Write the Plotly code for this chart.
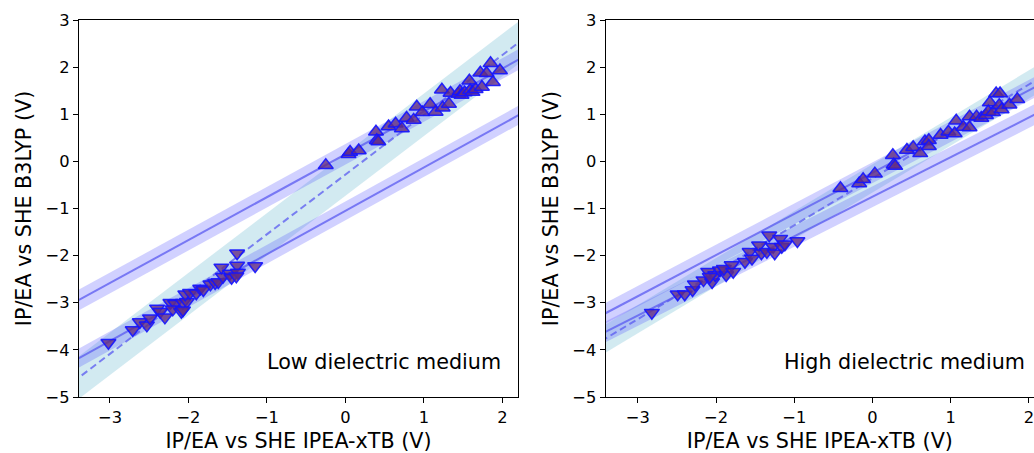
import numpy as np
import plotly.graph_objects as go

# ---------------- data ----------------
# Low dielectric medium (left panel)
low_ip_x = [-0.25, 0.04, 0.06, 0.17, 0.39, 0.40, 0.42, 0.55, 0.64, 0.72, 0.78, 0.87, 0.91, 0.98,
            1.08, 1.15, 1.23, 1.24, 1.32, 1.34, 1.44, 1.46, 1.48, 1.52, 1.58, 1.59, 1.62, 1.66,
            1.72, 1.74, 1.80, 1.85, 1.88, 1.97]
low_ip_y = [-0.08, 0.15, 0.20, 0.23, 0.63, 0.45, 0.42, 0.74, 0.80, 0.70, 0.92, 0.88, 1.16, 1.04,
            1.21, 1.05, 1.52, 1.14, 1.22, 1.45, 1.43, 1.49, 1.41, 1.46, 1.71, 1.51, 1.47, 1.53,
            1.88, 1.58, 1.87, 2.08, 1.68, 1.93]
low_ea_x = [-3.02, -2.71, -2.62, -2.53, -2.49, -2.40, -2.36, -2.30, -2.23, -2.17, -2.20, -2.09,
            -2.07, -2.02, -2.04, -1.98, -1.90, -1.85, -1.81, -1.72, -1.66, -1.62, -1.58, -1.56,
            -1.47, -1.45, -1.38, -1.38, -1.37, -1.39, -1.15, -2.07]
low_ea_y = [-3.85, -3.58, -3.41, -3.48, -3.33, -3.12, -3.19, -3.31, -3.00, -3.02, -3.14, -3.19,
            -3.00, -2.98, -2.82, -2.79, -2.80, -2.70, -2.73, -2.61, -2.58, -2.56, -2.25, -2.45,
            -2.38, -2.47, -1.95, -2.21, -2.36, -2.44, -2.22, -3.16]

# High dielectric medium (right panel)
high_ip_x = [-0.41, -0.17, -0.12, 0.03, 0.26, 0.27, 0.29, 0.44, 0.52, 0.61, 0.67, 0.72, 0.72,
             0.87, 0.97, 1.05, 1.07, 1.16, 1.24, 1.24, 1.33, 1.39, 1.45, 1.50, 1.48, 1.54,
             1.58, 1.63, 1.62, 1.65, 1.75, 1.85]
high_ip_y = [-0.57, -0.47, -0.38, -0.26, 0.13, -0.07, -0.10, 0.24, 0.30, 0.17, 0.42, 0.45, 0.32,
             0.56, 0.63, 0.59, 0.86, 0.73, 0.95, 0.72, 0.95, 0.92, 0.98, 1.25, 1.06, 1.04,
             1.44, 1.44, 1.19, 1.10, 1.20, 1.32]
high_ea_x = [-2.82, -2.49, -2.40, -2.30, -2.27, -2.16, -2.10, -2.05, -2.01, -2.08, -1.95, -1.87,
             -1.90, -1.80, -1.78, -1.63, -1.57, -1.54, -1.45, -1.42, -1.35, -1.32, -1.27, -1.25,
             -1.18, -1.16, -1.12, -0.96]
high_ea_y = [-3.21, -2.82, -2.82, -2.73, -2.61, -2.52, -2.34, -2.56, -2.41, -2.45, -2.31, -2.41,
             -2.28, -2.20, -2.34, -2.13, -1.92, -2.06, -1.78, -1.95, -1.92, -1.57, -1.81, -1.95,
             -1.64, -1.81, -1.76, -1.69]

# fitted lines: [slope, intercept, band half-width]
low_ip_fit = [0.91, 0.15, 0.22]
low_ea_fit = [0.92, -1.05, 0.20]
low_all_fit = [1.268, -0.28, 0.45]
high_ip_fit = [0.874, -0.24, 0.22]
high_ea_fit = [0.841, -0.75, 0.22]
high_all_fit = [0.996, -0.36, 0.30]

panel_text = ["Low dielectric medium", "High dielectric medium"]
x_ticks = [-3, -2, -1, 0, 1, 2]
y_ticks = [-5, -4, -3, -2, -1, 0, 1, 2, 3]

# ---------------- styling ----------------
W, H = 1034, 453
FONT = "DejaVu Sans"
band_col = "rgba(70,70,255,0.25)"
line_col = "rgba(90,90,240,0.75)"
light_col = "rgba(173,216,230,0.55)"
mk_fill = "rgba(100,45,130,0.8)"
mk_edge = "rgba(20,20,255,0.9)"
TFS = 20.7

fig = go.Figure()

panels = [
    dict(xa="x", ya="y", xr=[-3.395, 2.2], ip=(low_ip_x, low_ip_y), ea=(low_ea_x, low_ea_y),
         fits=(low_ip_fit, low_ea_fit, low_all_fit)),
    dict(xa="x2", ya="y2", xr=[-3.41, 2.064], ip=(high_ip_x, high_ip_y), ea=(high_ea_x, high_ea_y),
         fits=(high_ip_fit, high_ea_fit, high_all_fit)),
]


def band(xa, ya, fit, color, xr):
    s, c, w = fit
    xs = np.array([xr[0] - 0.3, xr[1] + 0.3])
    yl = s * xs + c
    px = list(xs) + list(xs[::-1])
    py = list(yl + w) + list((yl - w)[::-1])
    fig.add_trace(go.Scatter(x=px, y=py, xaxis=xa, yaxis=ya, mode="lines", fill="toself",
                             fillcolor=color, line=dict(width=0), hoverinfo="skip",
                             showlegend=False))


def fitline(xa, ya, fit, dash, xr):
    s, c, _ = fit
    xs = np.array([xr[0] - 0.3, xr[1] + 0.3])
    fig.add_trace(go.Scatter(x=xs, y=s * xs + c, xaxis=xa, yaxis=ya, mode="lines",
                             line=dict(color=line_col, width=2, dash=dash),
                             hoverinfo="skip", showlegend=False))


for p in panels:
    ipf, eaf, allf = p["fits"]
    band(p["xa"], p["ya"], allf, light_col, p["xr"])
    band(p["xa"], p["ya"], ipf, band_col, p["xr"])
    band(p["xa"], p["ya"], eaf, band_col, p["xr"])
    fitline(p["xa"], p["ya"], ipf, "solid", p["xr"])
    fitline(p["xa"], p["ya"], eaf, "solid", p["xr"])
    fitline(p["xa"], p["ya"], allf, "7px,4px", p["xr"])
    for (xx, yy), sym in [(p["ea"], "triangle-down"), (p["ip"], "triangle-up")]:
        fig.add_trace(go.Scatter(x=xx, y=yy, xaxis=p["xa"], yaxis=p["ya"], mode="markers",
                                 marker=dict(symbol=sym, size=13, color=mk_fill,
                                             line=dict(color=mk_edge, width=1.5)),
                                 showlegend=False))

common_ax = dict(showgrid=False, zeroline=False, showline=True, linecolor="black", linewidth=1.3,
                 ticks="outside", ticklen=5, tickwidth=1.3, tickcolor="black",
                 ticklabeloverflow="allow",
                 tickfont=dict(family=FONT, size=16.3, color="black"))

x0l, x1l = 79 / W, 518 / W
x0r, x1r = 605.7 / W, 1.0

fig.update_layout(
    width=W, height=H, margin=dict(l=0, r=0, t=20, b=56),
    paper_bgcolor="white", plot_bgcolor="white", showlegend=False,
    font=dict(family=FONT, color="black"),
    xaxis=dict(domain=[x0l, x1l], range=[-3.395, 2.2], tickvals=x_ticks, mirror=True,
               title=dict(text="IP/EA vs SHE IPEA-xTB (V)", font=dict(size=TFS, family=FONT),
                          standoff=9), anchor="y", **common_ax),
    yaxis=dict(domain=[0, 1], range=[-5, 3], tickvals=y_ticks, mirror=True,
               title=dict(text="IP/EA vs SHE B3LYP (V)", font=dict(size=TFS, family=FONT),
                          standoff=8), anchor="x", **common_ax),
    xaxis2=dict(domain=[x0r, x1r], range=[-3.41, 2.064], tickvals=x_ticks, mirror=True,
                title=dict(text="IP/EA vs SHE IPEA-xTB (V)", font=dict(size=TFS, family=FONT),
                           standoff=9), anchor="y2", **common_ax),
    yaxis2=dict(domain=[0, 1], range=[-5, 3], tickvals=y_ticks, mirror=False,
                title=dict(text="IP/EA vs SHE B3LYP (V)", font=dict(size=TFS, family=FONT),
                           standoff=8), anchor="x2", **common_ax),
    annotations=[
        dict(text=panel_text[0], x=2.01, y=-4.26, xref="x", yref="y", xanchor="right",
             yanchor="middle", showarrow=False, font=dict(family=FONT, size=TFS, color="black")),
        dict(text=panel_text[1], x=1.97, y=-4.25, xref="x2", yref="y2", xanchor="right",
             yanchor="middle", showarrow=False, font=dict(family=FONT, size=TFS, color="black")),
    ],
)

fig.write_html("out.html", config={"displayModeBar": False},
               post_script="document.body.style.margin='0';document.body.style.overflow='hidden';")
